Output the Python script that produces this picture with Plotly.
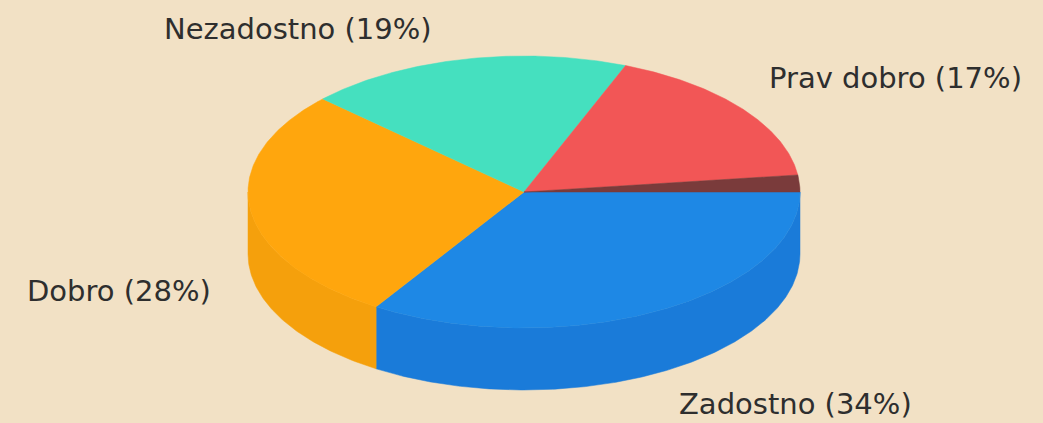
import numpy as np
import plotly.graph_objects as go

# ---- data ----
categories = ["Zadostno", "Dobro", "Nezadostno", "Prav dobro", "Odlično"]
values = [34, 28, 19, 17, 2]
show_label = [True, True, True, True, False]

# ---- style ----
top_colors = ["#1E88E5", "#FFA60D", "#45E0BF", "#F25656", "#7A3B3B"]
side_colors = ["#1A7BD9", "#F5A00C", "#3CCFAF", "#DE4B4B", "#6A3232"]
label_pos = {  # annotation anchor positions (pixel space)
    "Zadostno": (795, 404),
    "Dobro": (119, 291),
    "Nezadostno": (298, 29),
    "Prav dobro": (895, 78),
}
W, H = 1043, 423
cx, cy, rx, ry, depth = 524, 192, 276, 136, 62
bg = "#F2E1C5"

total = float(sum(values))
angles = np.cumsum([0] + [v / total * 360 for v in values])

fig = go.Figure()


def arc(a0, a1, dy=0.0, n=None):
    if n is None:
        n = max(4, int(abs(a1 - a0) * 2))
    t = np.radians(np.linspace(a0, a1, n))
    return cx + rx * np.cos(t), cy + ry * np.sin(t) + dy


# side walls (front half only: 0..180 degrees, y pointing down)
for i, v in enumerate(values):
    a0, a1 = angles[i], angles[i + 1]
    s, e = max(a0, 0), min(a1, 180)
    if e <= s:
        continue
    xt, yt = arc(s, e)
    xb, yb = arc(e, s, depth)
    fig.add_trace(go.Scatter(
        x=np.concatenate([xt, xb, xt[:1]]), y=np.concatenate([yt, yb, yt[:1]]),
        mode="lines", fill="toself", fillcolor=side_colors[i],
        line=dict(color=side_colors[i], width=0.5), hoverinfo="skip", showlegend=False))

# top faces
for i, v in enumerate(values):
    a0, a1 = angles[i], angles[i + 1]
    xa, ya = arc(a0, a1)
    fig.add_trace(go.Scatter(
        x=np.concatenate([[cx], xa, [cx]]), y=np.concatenate([[cy], ya, [cy]]),
        mode="lines", fill="toself", fillcolor=top_colors[i],
        line=dict(color=top_colors[i], width=0.5),
        name=categories[i], text=f"{categories[i]}: {v}%", hoverinfo="text",
        showlegend=False))

for i, c in enumerate(categories):
    if not show_label[i]:
        continue
    pct = round(values[i] / total * 100)
    x, y = label_pos[c]
    fig.add_annotation(x=x, y=y, xref="x", yref="y", text=f"{c} ({pct}%)",
                       showarrow=False, xanchor="center", yanchor="middle",
                       font=dict(family="DejaVu Sans, Verdana, sans-serif", size=29, color="#2E2E2E"))

fig.update_layout(
    width=W, height=H, margin=dict(l=0, r=0, t=0, b=0),
    paper_bgcolor=bg, plot_bgcolor=bg,
    xaxis=dict(range=[0, W], visible=False, fixedrange=True),
    yaxis=dict(range=[H, 0], visible=False, fixedrange=True),
)

fig.write_html("out.html")
